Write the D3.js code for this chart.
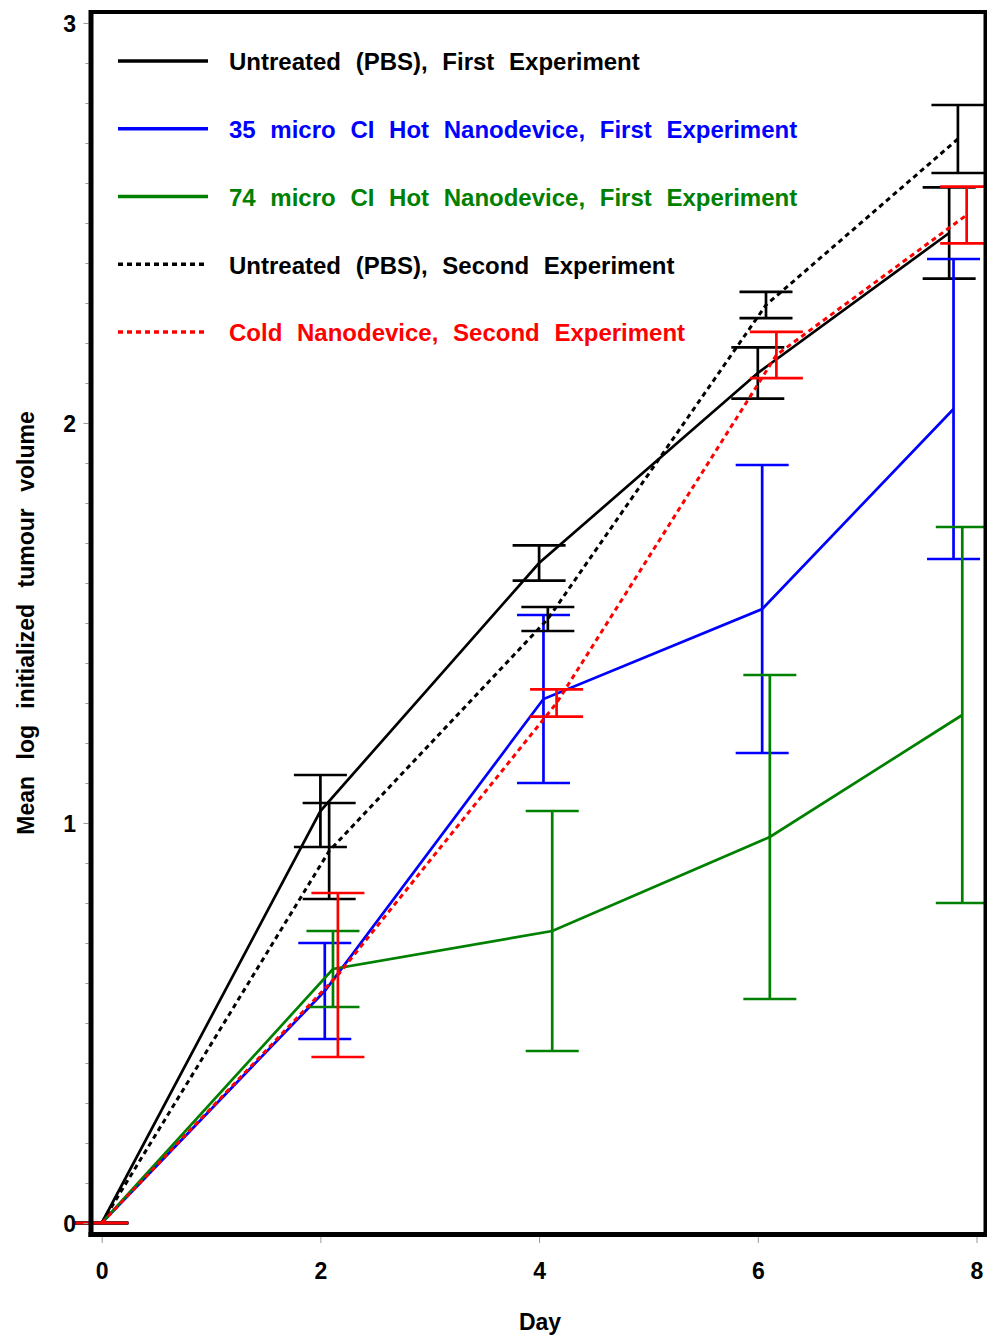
<!DOCTYPE html>
<html>
<head>
<meta charset="utf-8">
<script src="https://cdn.jsdelivr.net/npm/d3@7"></script>
<style>
  html, body { margin: 0; padding: 0; background: #fff; }
  svg { display: block; font-family: "Liberation Sans", Arial, Helvetica, sans-serif; font-weight: bold; }
</style>
</head>
<body>
<svg id="chart" width="987" height="1338"></svg>
<script>
// ---- Data ----
const seriesNames = [
  "Untreated (PBS), First Experiment",
  "35 micro CI Hot Nanodevice, First Experiment",
  "74 micro CI Hot Nanodevice, First Experiment",
  "Untreated (PBS), Second Experiment",
  "Cold Nanodevice, Second Experiment"
];
const seriesColors = ["#000000", "#0000ff", "#008000", "#000000", "#ff0000"];
const seriesDashed = [false, false, false, true, true];

const daysPBS1  = [0, 2.00, 4.00, 6.00, 7.75];
const meanPBS1  = [0, 1.03, 1.65, 2.125, 2.475];
const errPBS1   = [0, 0.09, 0.044, 0.064, 0.114];

const daysHot35 = [0, 2.04, 4.04, 6.04, 7.79];
const meanHot35 = [0, 0.58, 1.31, 1.535, 2.035];
const errHot35  = [0, 0.12, 0.21, 0.36, 0.375];

const daysHot74 = [0, 2.115, 4.12, 6.11, 7.87];
const meanHot74 = [0, 0.635, 0.73, 0.965, 1.27];
const errHot74  = [0, 0.095, 0.30, 0.405, 0.47];

const daysPBS2  = [0, 2.08, 4.08, 6.075, 7.83];
const meanPBS2  = [0, 0.93, 1.51, 2.295, 2.71];
const errPBS2   = [0, 0.12, 0.03, 0.033, 0.085];

const daysCold  = [0, 2.16, 4.16, 6.17, 7.91];
const meanCold  = [0, 0.62, 1.30, 2.17, 2.52];
const errCold   = [0, 0.205, 0.034, 0.058, 0.071];

const xTicks = [0, 2, 4, 6, 8];
const yTicks = [0, 1, 2, 3];

const allDays  = [daysPBS1, daysHot35, daysHot74, daysPBS2, daysCold];
const allMeans = [meanPBS1, meanHot35, meanHot74, meanPBS2, meanCold];
const allErrs  = [errPBS1, errHot35, errHot74, errPBS2, errCold];

// ---- Layout ----
const svg = d3.select("#chart");
const x = d3.scaleLinear().domain([0, 8]).range([101.7, 976.5]);
const y = d3.scaleLinear().domain([0, 3]).range([1223, 23]);
const frame = { left: 91, top: 12, right: 985.5, bottom: 1234.5 };
const capHalf = 26.5;

// ---- Series ----
const line = d3.line().x(d => x(d.day)).y(d => y(d.mean));
allDays.forEach((days, i) => {
  const pts = days.map((d, j) => ({ day: d, mean: allMeans[i][j], err: allErrs[i][j] }));
  const g = svg.append("g").attr("stroke", seriesColors[i]).attr("fill", "none");
  g.append("path").datum(pts).attr("d", line)
    .attr("stroke-width", seriesDashed[i] ? 3 : 2.7)
    .attr("stroke-dasharray", seriesDashed[i] ? "5,4" : null);
  const eb = g.selectAll("g.eb").data(pts).join("g").attr("class", "eb").attr("stroke-width", 2.7);
  eb.append("line")
    .attr("x1", d => x(d.day)).attr("x2", d => x(d.day))
    .attr("y1", d => y(d.mean + d.err)).attr("y2", d => y(d.mean - d.err));
  eb.append("line")
    .attr("x1", d => x(d.day) - capHalf).attr("x2", d => x(d.day) + capHalf)
    .attr("y1", d => y(d.mean + d.err)).attr("y2", d => y(d.mean + d.err));
  eb.append("line")
    .attr("x1", d => x(d.day) - capHalf).attr("x2", d => x(d.day) + capHalf)
    .attr("y1", d => y(d.mean - d.err)).attr("y2", d => y(d.mean - d.err));
});

// ---- Legend ----
const legend = svg.append("g");
seriesNames.forEach((name, i) => {
  const ly = 61 + i * 67.75;
  legend.append("line")
    .attr("x1", 118).attr("x2", 208).attr("y1", ly).attr("y2", ly)
    .attr("stroke", seriesColors[i]).attr("stroke-width", 3.4)
    .attr("stroke-dasharray", seriesDashed[i] ? "5,4" : null);
  legend.append("text")
    .attr("x", 229).attr("y", ly + 9.3)
    .attr("fill", seriesColors[i])
    .style("font-size", "24px")
    .attr("word-spacing", 8)
    .text(name);
});

// ---- Axes ----
const yAxis = d3.axisLeft(y).tickValues(d3.range(0, 3.001, 0.1)).tickSize(3).tickFormat("");
const yAxisG = svg.append("g").attr("transform", `translate(${frame.left - 2.5},0)`).call(yAxis);
yAxisG.select(".domain").remove();
yAxisG.selectAll(".tick line").attr("stroke", "#999").attr("stroke-width", 1)
  .attr("x2", d => (Math.abs(d - Math.round(d)) < 1e-6 ? -5 : -3));

const yLab = d3.axisLeft(y).tickValues(yTicks).tickSize(0).tickPadding(0).tickFormat(d3.format("d"));
const yLabG = svg.append("g").attr("transform", `translate(76,0)`).call(yLab);
yLabG.select(".domain").remove();
yLabG.selectAll("text")
  .style("font-size", "23px").style("font-family", "'Liberation Sans', Arial, sans-serif")
  .style("font-weight", "bold").attr("fill", "#000").attr("dy", "0.36em");

const xAxis = d3.axisBottom(x).tickValues(xTicks).tickSize(6).tickPadding(20).tickFormat(d3.format("d"));
const xAxisG = svg.append("g").attr("transform", `translate(0,${frame.bottom + 2.5})`).call(xAxis);
xAxisG.select(".domain").remove();
xAxisG.selectAll(".tick line").attr("stroke", "#999").attr("stroke-width", 1);
xAxisG.selectAll("text")
  .style("font-size", "23px").style("font-family", "'Liberation Sans', Arial, sans-serif")
  .style("font-weight", "bold").attr("fill", "#000").attr("dy", "0.71em");

// ---- Frame ----
const fr = svg.append("g").attr("stroke", "#000");
fr.append("line").attr("x1", frame.left).attr("x2", frame.left).attr("y1", frame.top - 2).attr("y2", frame.bottom + 2.5).attr("stroke-width", 5);
fr.append("line").attr("x1", frame.left - 2.5).attr("x2", frame.right + 2).attr("y1", frame.bottom).attr("y2", frame.bottom).attr("stroke-width", 5);
fr.append("line").attr("x1", frame.left).attr("x2", frame.right + 2).attr("y1", frame.top).attr("y2", frame.top).attr("stroke-width", 4);
fr.append("line").attr("x1", frame.right).attr("x2", frame.right).attr("y1", frame.top - 2).attr("y2", frame.bottom).attr("stroke-width", 4);

// ---- Axis titles ----
svg.append("text").attr("x", 540).attr("y", 1330).attr("text-anchor", "middle")
  .style("font-size", "23px").attr("fill", "#000").text("Day");
svg.append("text").attr("transform", "translate(34,623) rotate(-90)").attr("text-anchor", "middle")
  .style("font-size", "23px").attr("word-spacing", 10).attr("fill", "#000")
  .text("Mean log initialized tumour volume");
</script>
</body>
</html>
